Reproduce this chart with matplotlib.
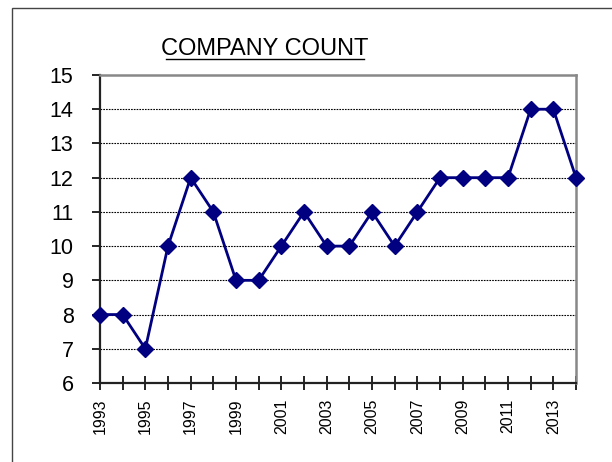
#!/usr/bin/env python3

import matplotlib
matplotlib.use('Agg')
import matplotlib.pyplot as plt
from matplotlib.patches import Rectangle
from matplotlib.lines import Line2D

# Company count per year
YEARS = list(range(1993, 2015))
COUNTS = [8, 8, 7, 10, 12, 11, 9, 9, 10, 11, 10, 10, 11, 10, 11, 12, 12, 12, 12, 14, 14, 12]
Y_TICKS = list(range(6, 16))
TITLE = 'COMPANY COUNT'

plt.rcParams['font.family'] = ['Liberation Sans', 'DejaVu Sans']

fig = plt.figure(figsize=(6.12, 4.62), dpi=100)
fig.patch.set_facecolor('white')

# outer chart border (only left / top visible)
fig.add_artist(Rectangle((12 / 612, -0.1), 1.2, 1 - 8 / 462 + 0.1,
                         transform=fig.transFigure, fill=False,
                         edgecolor='#444444', linewidth=1.0))

ax = fig.add_axes([100 / 612, 1 - 383 / 462, 476 / 612, 308 / 462])

ax.plot(YEARS, COUNTS, color='#000080', linewidth=2.0, marker='D',
        markersize=8, markerfacecolor='#000080', markeredgecolor='#000080',
        zorder=5, clip_on=False)

ax.set_xlim(YEARS[0], YEARS[-1])
ax.set_ylim(Y_TICKS[0], Y_TICKS[-1])
ax.set_yticks(Y_TICKS)
ax.set_yticklabels([str(v) for v in Y_TICKS], fontsize=15.5)
ax.set_xticks(YEARS)
ax.set_xticklabels([str(y) if (y - YEARS[0]) % 2 == 0 else '' for y in YEARS],
                   rotation=90, fontsize=11.5)

ax.tick_params(axis='x', direction='inout', length=10, width=1.2, pad=6)
ax.tick_params(axis='y', direction='out', length=6, width=1.2, pad=13)

for v in Y_TICKS[1:-1]:
    ax.axhline(v, color='black', linestyle=(0, (1.5, 1)), linewidth=0.8, zorder=1)

for side in ['left', 'bottom']:
    ax.spines[side].set_color('#222222')
    ax.spines[side].set_linewidth(1.6)
for side in ['top', 'right']:
    ax.spines[side].set_color('#888888')
    ax.spines[side].set_linewidth(1.8)

# title with underline
tx, ty = 265 / 612, 1 - 55 / 462
fig.text(tx, ty, TITLE, ha='center', va='baseline', fontsize=17)
fig.add_artist(Line2D([166 / 612, 364 / 612], [1 - 59 / 462, 1 - 59 / 462],
                      transform=fig.transFigure, color='black', linewidth=1.0))

fig.savefig('out.png', dpi=100)
plt.close(fig)
